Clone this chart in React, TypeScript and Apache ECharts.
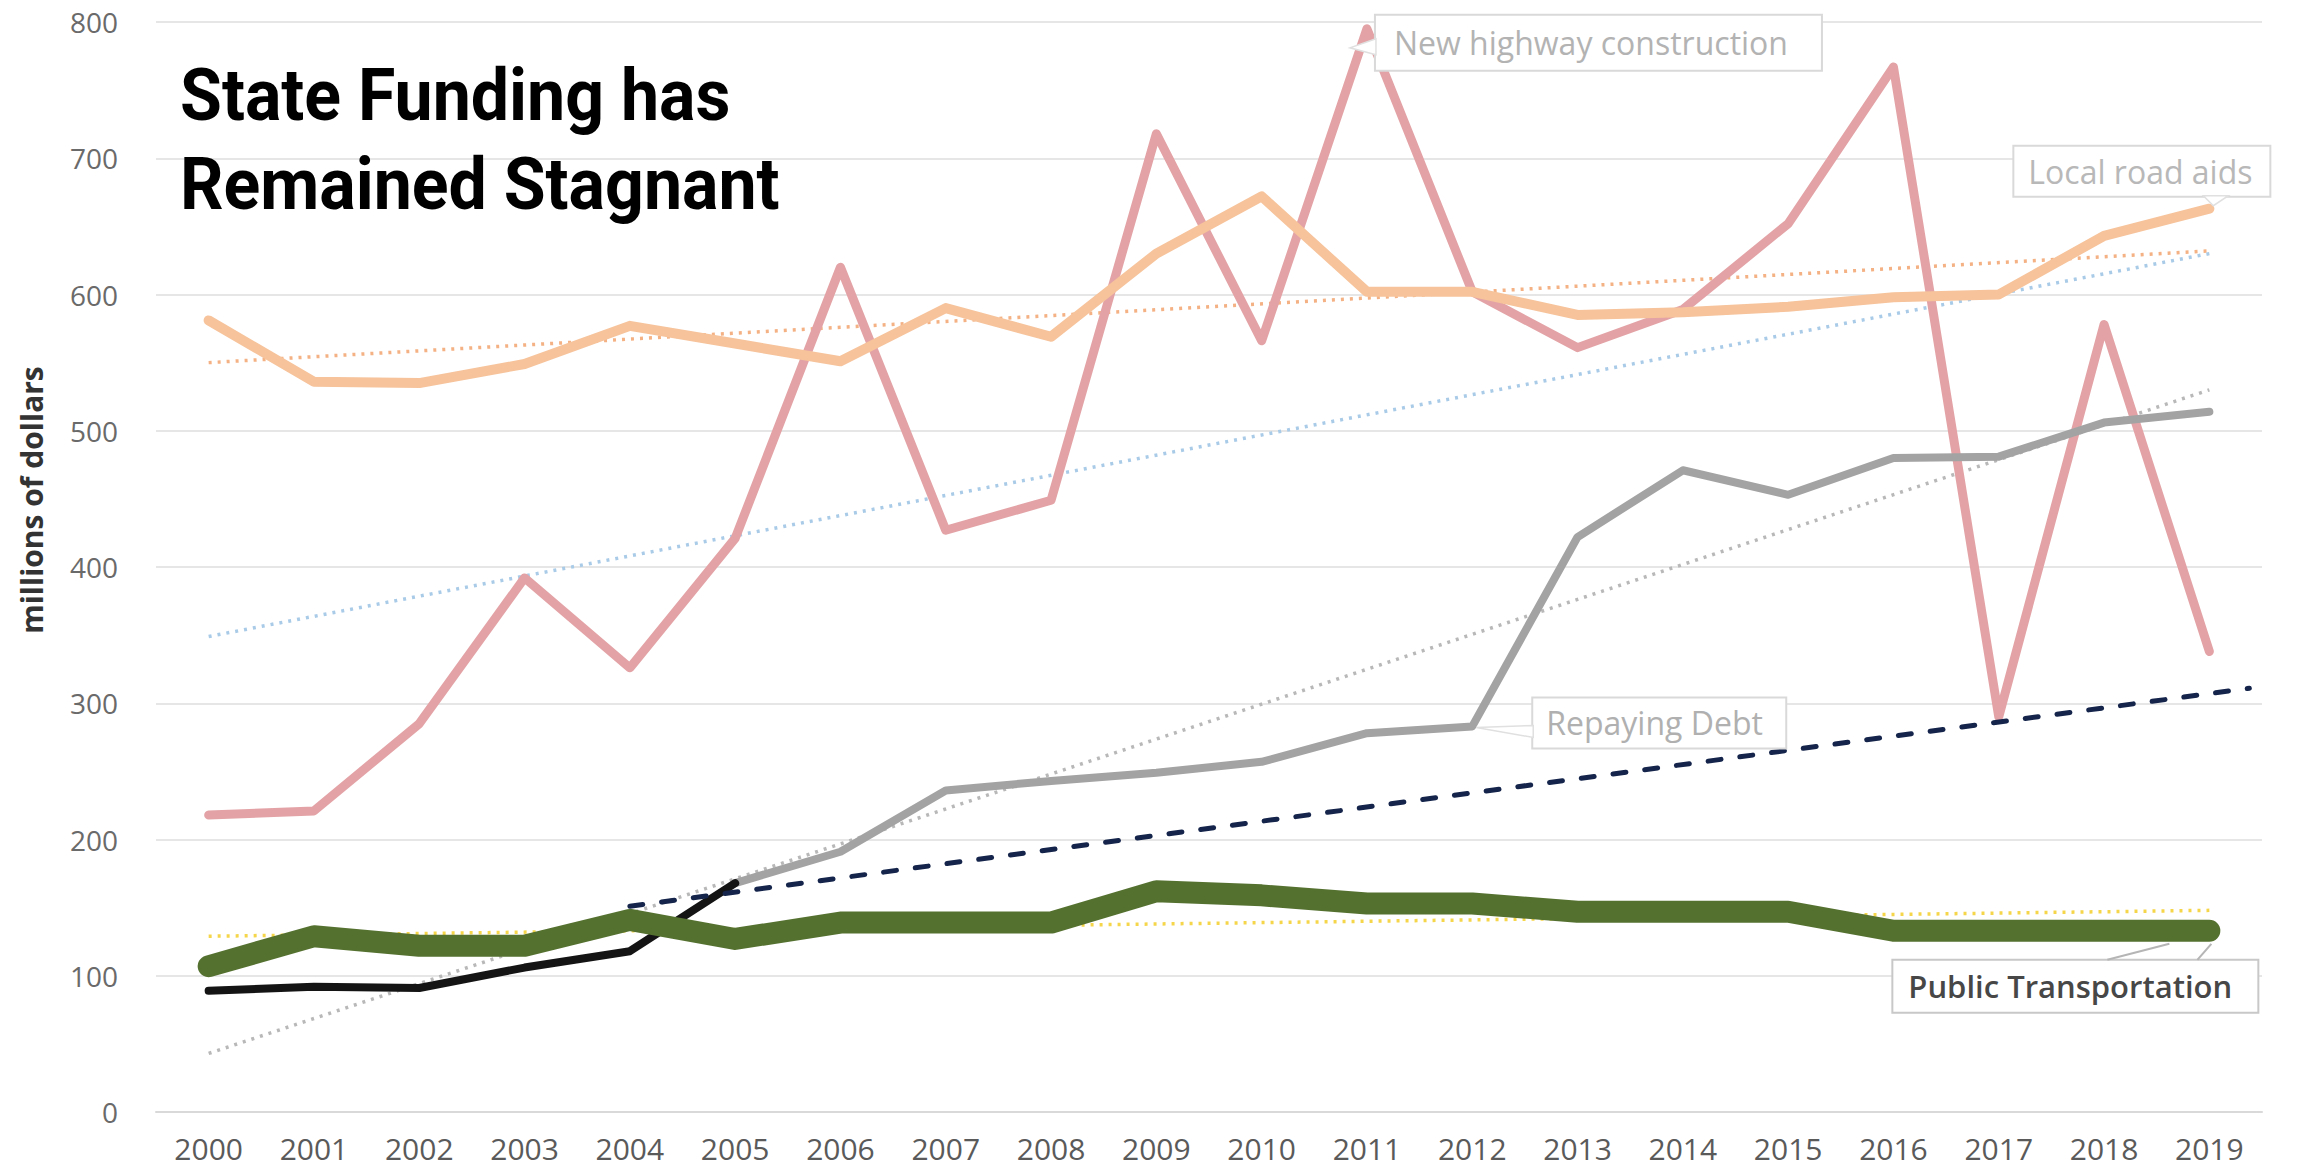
import React, { useEffect, useRef } from "react";
import * as echarts from "echarts";

const years = ["2000", "2001", "2002", "2003", "2004", "2005", "2006", "2007", "2008", "2009", "2010", "2011", "2012", "2013", "2014", "2015", "2016", "2017", "2018", "2019"];
const newHighway = [218, 221, 285, 392, 326, 421, 620, 427, 449, 718, 566, 795, 602, 561, 589, 652, 767, 290, 578, 338];
const localRoadAids = [581, 536, 535, 549, 577, 564, 551, 590, 569, 630, 672, 602, 602, 585, 587, 591, 598, 600, 643, 663];
const repayingDebtEarly = [89, 92, 91, 106, 118, 168];
const repayingDebtLater = [168, 191, 236, 243, 249, 257, 278, 283, 422, 471, 453, 480, 481, 506, 514];
const repayingDebtLaterStart = 5;
const publicTransport = [107, 129, 122, 122, 141, 127, 139, 139, 139, 162, 159, 153, 153, 147, 147, 147, 133, 133, 133, 133];

const trendLocalRoad = [[0, 550], [19, 632]];
const trendHighway = [[0, 349], [19, 630]];
const trendDebt = [[0, 43], [19, 530]];
const trendTransit = [[0, 129], [19, 148]];
const debtProjection = [[4, 151], [19.38, 311]];

const yMin = 0;
const yMax = 800;
const yStep = 100;

const titleLines = ["State Funding has", "Remained Stagnant"];
const yAxisTitle = "millions of dollars";
const labelHighway = "New highway construction";
const labelLocal = "Local road aids";
const labelDebt = "Repaying Debt";
const labelTransit = "Public Transportation";

export default function App() {
  const ref = useRef<HTMLDivElement>(null);

  useEffect(() => {
    if (!ref.current) return;
    const chart = echarts.init(ref.current, undefined, { renderer: "svg" });

    const earlyData = years.map((_, i) => (i < repayingDebtEarly.length ? repayingDebtEarly[i] : null));
    const laterData = years.map((_, i) =>
      i >= repayingDebtLaterStart ? repayingDebtLater[i - repayingDebtLaterStart] : null
    );

    const trend = (data: number[][], color: string) => ({
      type: "line",
      xAxisIndex: 1,
      yAxisIndex: 0,
      data,
      symbol: "none",
      silent: true,
      lineStyle: { color, width: 3.5, type: [3, 6] },
      z: 2,
    });

    const solid = (data: (number | null)[], color: string, width: number, z: number) => ({
      type: "line",
      xAxisIndex: 0,
      yAxisIndex: 0,
      data,
      symbol: "none",
      connectNulls: false,
      lineStyle: { color, width, join: "round", cap: "round" },
      z,
    });

    const option: any = {
      animation: false,
      backgroundColor: "#ffffff",
      grid: { left: 156, right: 36, top: 22, bottom: 60, containLabel: false },
      xAxis: [
        {
          type: "category",
          data: years,
          boundaryGap: true,
          axisLine: { lineStyle: { color: "#d9d9d9", width: 2 } },
          axisTick: { show: false },
          axisLabel: {
            color: "#5a5a5a",
            fontSize: 30,
            lineHeight: 30,
            fontFamily: "Open Sans",
            margin: 21,
          },
        },
        { type: "value", min: -0.5, max: 19.5, show: false },
      ],
      yAxis: {
        type: "value",
        min: yMin,
        max: yMax,
        interval: yStep,
        axisLine: { show: false },
        axisTick: { show: false },
        splitLine: { lineStyle: { color: "#e6e6e6", width: 2 } },
        axisLabel: { color: "#6a6a6a", fontSize: 28, fontFamily: "Open Sans", margin: 38 },
      },
      series: [
        trend(trendLocalRoad, "#f4b183"),
        trend(trendHighway, "#a9cbe8"),
        trend(trendDebt, "#b8b8b8"),
        trend(trendTransit, "#f5d54a"),
        solid(newHighway, "#e3a3a6", 9, 3),
        solid(localRoadAids, "#f6c39b", 10, 4),
        solid(laterData, "#a3a3a3", 8, 5),
        solid(earlyData, "#141414", 8, 6),
        solid(publicTransport, "#557130", 22, 7),
        {
          type: "line",
          xAxisIndex: 1,
          yAxisIndex: 0,
          data: debtProjection,
          symbol: "none",
          lineStyle: { color: "#14244a", width: 5, type: [13, 19], cap: "round" },
          z: 8,
        },
      ],
    };
    chart.setOption(option);

    const px = (i: number, v: number) =>
      chart.convertToPixel({ xAxisIndex: 0, yAxisIndex: 0 }, [years[i], v]) as number[];

    const nh = px(11, newHighway[11]);
    const lr = px(19, localRoadAids[19]);
    const rd = px(12, repayingDebtLater[12 - repayingDebtLaterStart]);
    const pt = px(19, publicTransport[19]);

    const boxStyle = { fill: "#ffffff", stroke: "#d9d9d9", lineWidth: 2 };
    const labelFont = { fontFamily: "Open Sans", fontSize: 32 };

    const nhBox = { x: nh[0] + 8, y: nh[1] - 14, w: 447, h: 56 };
    const lrBox = { x: lr[0] - 196, y: lr[1] - 63, w: 257, h: 51 };
    const rdBox = { x: rd[0] + 60, y: rd[1] - 29, w: 254, h: 51 };
    const ptBox = { x: pt[0] - 317, y: pt[1] + 29, w: 366, h: 53 };

    const titleStyle = {
      fill: "#000000",
      fontFamily: "Roboto",
      fontWeight: "bold",
      fontSize: 72,
      verticalAlign: "middle",
      align: "left",
    };

    const graphic: any[] = [
      { type: "text", x: 180, y: 95, scaleX: 0.945, z: 100, style: { ...titleStyle, text: titleLines[0] } },
      { type: "text", x: 180, y: 184, scaleX: 0.945, z: 100, style: { ...titleStyle, text: titleLines[1] } },
      {
        type: "text",
        x: 31,
        y: 500,
        rotation: Math.PI / 2,
        z: 100,
        style: {
          text: yAxisTitle,
          fill: "#333333",
          fontFamily: "Open Sans",
          fontWeight: "bold",
          fontSize: 30,
          align: "center",
          verticalAlign: "middle",
        },
      },
      // New highway construction callout
      {
        type: "polygon",
        z: 50,
        shape: { points: [[nhBox.x + 1, nhBox.y + 24], [nhBox.x - 25, nhBox.y + 33], [nhBox.x + 1, nhBox.y + 40]] },
        style: { fill: "#ffffff", stroke: "#e0e0e0", lineWidth: 1.5 },
      },
      { type: "rect", z: 49, shape: { x: nhBox.x, y: nhBox.y, width: nhBox.w, height: nhBox.h }, style: boxStyle },
      {
        type: "text",
        z: 51,
        x: nhBox.x + 19,
        y: nhBox.y + nhBox.h / 2,
        style: { ...labelFont, text: labelHighway, fill: "#b3b3b3", verticalAlign: "middle" },
      },
      // Local road aids callout
      { type: "rect", z: 49, shape: { x: lrBox.x, y: lrBox.y, width: lrBox.w, height: lrBox.h }, style: boxStyle },
      {
        type: "polygon",
        z: 50,
        shape: { points: [[lrBox.x + 190, lrBox.y + lrBox.h - 1], [lr[0] + 4, lr[1] - 3], [lrBox.x + 215, lrBox.y + lrBox.h - 1]] },
        style: { fill: "#ffffff", stroke: "#e0e0e0", lineWidth: 1.5 },
      },
      {
        type: "text",
        z: 51,
        x: lrBox.x + 15,
        y: lrBox.y + lrBox.h / 2,
        style: { ...labelFont, text: labelLocal, fill: "#b8b8b8", verticalAlign: "middle" },
      },
      // Repaying Debt callout
      {
        type: "polygon",
        z: 50,
        shape: { points: [[rd[0] + 4, rd[1] + 1], [rdBox.x + 1, rdBox.y + 28], [rdBox.x + 1, rdBox.y + 40]] },
        style: { fill: "#ffffff", stroke: "#e0e0e0", lineWidth: 1.5 },
      },
      { type: "rect", z: 49, shape: { x: rdBox.x, y: rdBox.y, width: rdBox.w, height: rdBox.h }, style: boxStyle },
      {
        type: "text",
        z: 51,
        x: rdBox.x + 14,
        y: rdBox.y + rdBox.h / 2,
        style: { ...labelFont, text: labelDebt, fill: "#b0b0b0", verticalAlign: "middle" },
      },
      // Public Transportation callout
      {
        type: "polyline",
        z: 50,
        shape: { points: [[ptBox.x + 215, ptBox.y], [pt[0] - 40, pt[1] + 13]] },
        style: { stroke: "#b5b5b5", lineWidth: 2, fill: "none" },
      },
      {
        type: "polyline",
        z: 50,
        shape: { points: [[ptBox.x + 305, ptBox.y], [pt[0] + 2, pt[1] + 13]] },
        style: { stroke: "#b5b5b5", lineWidth: 2, fill: "none" },
      },
      {
        type: "rect",
        z: 49,
        shape: { x: ptBox.x, y: ptBox.y, width: ptBox.w, height: ptBox.h },
        style: { fill: "#ffffff", stroke: "#c8c8c8", lineWidth: 2 },
      },
      {
        type: "text",
        z: 51,
        x: ptBox.x + 16,
        y: ptBox.y + ptBox.h / 2,
        style: {
          text: labelTransit,
          fill: "#474747",
          fontFamily: "Open Sans",
          fontWeight: 600,
          fontSize: 31,
          verticalAlign: "middle",
        },
      },
    ];

    chart.setOption({ graphic });

    return () => chart.dispose();
  }, []);

  return (
    <div
      ref={ref}
      style={{ position: "fixed", left: 0, top: 0, width: 2298, height: 1172, background: "#ffffff" }}
    />
  );
}
